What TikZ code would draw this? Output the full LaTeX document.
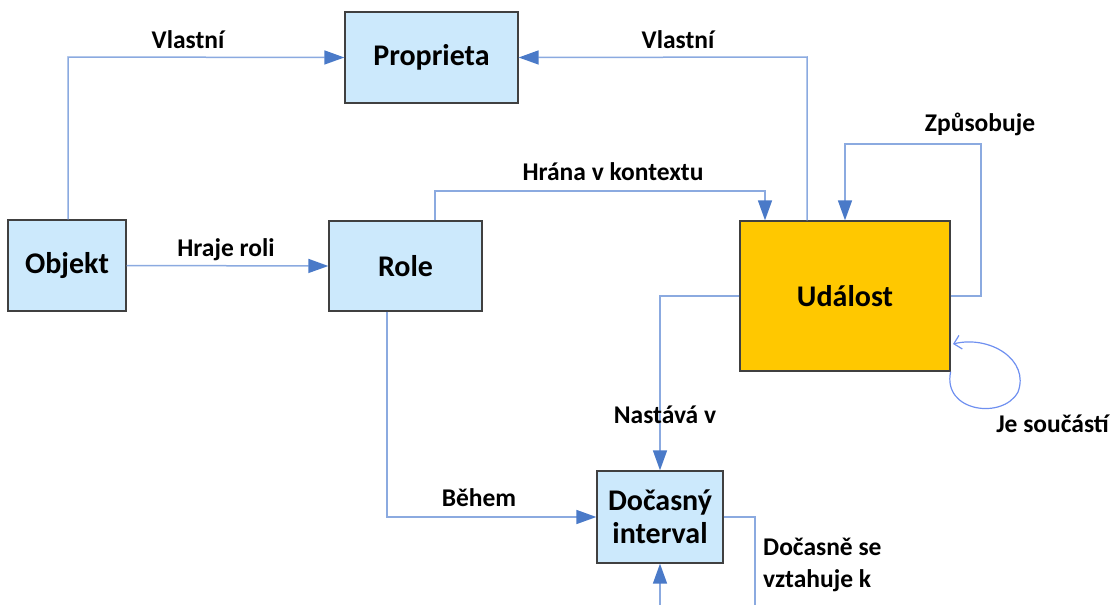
\documentclass[tikz,border=0pt]{standalone}
\usepackage{fontspec}
\setmainfont{Carlito}
\usetikzlibrary{arrows.meta}
\definecolor{boxfill}{HTML}{CCE9FC}
\definecolor{eventfill}{HTML}{FFC800}
\definecolor{boxedge}{HTML}{404040}
\definecolor{linkline}{HTML}{8BAAE0}
\definecolor{linkhead}{HTML}{4A7AC8}
\definecolor{loopline}{HTML}{6F90F0}
\tikzset{
  concept/.style={draw=boxedge, line width=1.3pt, fill=boxfill, inner sep=0pt,
    font=\fontsize{30}{33}\selectfont\bfseries, align=center},
  event/.style={concept, fill=eventfill},
  link/.style={draw=linkline, line width=1.5pt,
    -{Triangle[length=20pt,width=14pt,fill=linkhead,color=linkhead]}},
  plain/.style={draw=linkline, line width=1.5pt},
  lbl/.style={font=\fontsize{25.5}{30}\selectfont\bfseries, inner sep=0pt, anchor=base},
}
\begin{document}
\begin{tikzpicture}[x=1pt,y=-1pt]
\useasboundingbox (0,0) rectangle (1112,605);

% concept boxes
\node[concept, minimum width=173pt, minimum height=91pt] (prop) at (431.5,57.5) {Proprieta};
\node[concept, minimum width=118pt, minimum height=91pt] (obj) at (67,265.5) {Objekt};
\node[concept, minimum width=153pt, minimum height=90pt] (role) at (405.5,266) {Role};
\node[event, minimum width=210pt, minimum height=150pt] (event) at (845,296) {Událost};
\node[concept, minimum width=126pt, minimum height=92pt] (interval) at (660,517) {Dočasný\\interval};

% bends and free ends of the connectors
\coordinate (objUp) at (68,57);
\coordinate (evUp) at (807,57);
\coordinate (roleUp) at (435,191);
\coordinate (ctxDown) at (765,191);
\coordinate (causeR) at (981,296);
\coordinate (causeTop) at (981,144);
\coordinate (causeL) at (845,144);
\coordinate (occL) at (660,296);
\coordinate (duringBend) at (387,517);
\coordinate (relBend) at (755,517);
\coordinate (relEnd) at (755,605);
\coordinate (relStart) at (660,605);
\coordinate (loopEnd) at (953,344);

% connectors
\draw[link] (obj.north -| objUp) -- (objUp) -- (prop.west);
\draw[link] (event.north -| evUp) -- (evUp) -- (prop.east);
\draw[link] (obj.east) -- (role.west);
\draw[link] (role.north -| roleUp) -- (roleUp) -- (ctxDown) -- (event.north -| ctxDown);
\draw[link] (event.east) -- (causeR) -- (causeTop) -- (causeL) -- (event.north -| causeL);
\draw[link] (event.west) -- (occL) -- (interval.north);
\draw[link] (role.south -| duringBend) -- (duringBend) -- (interval.west);
\draw[plain] (interval.east) -- (relBend) -- (relEnd);
\draw[link] (relStart) -- (interval.south);
\draw[loopline, line width=1.2pt, -{Straight Barb[length=7pt,width=14pt]}]
  (event.south east) .. controls (942,412) and (1003,420) .. (1018,392)
  .. controls (1030,360) and (990,335) .. (loopEnd);

% connector labels
\node[lbl] (l1) at (188,48) {Vlastní};
\node[lbl] (l2) at (678,48) {Vlastní};
\node[lbl] (l3) at (226,256) {Hraje roli};
\node[lbl] (l4) at (613,180) {Hrána v kontextu};
\node[lbl] (l5) at (980,131) {Způsobuje};
\node[lbl] (l6) at (665,423) {Nastává v};
\node[lbl] (l7) at (479,506) {Během};
\node[lbl, anchor=base east] (l8) at (1109,432) {Je součástí};
\node[lbl, anchor=base west, align=left] (l9) at (763,587) {Dočasně se\\[2pt]vztahuje k};
\end{tikzpicture}
\end{document}
